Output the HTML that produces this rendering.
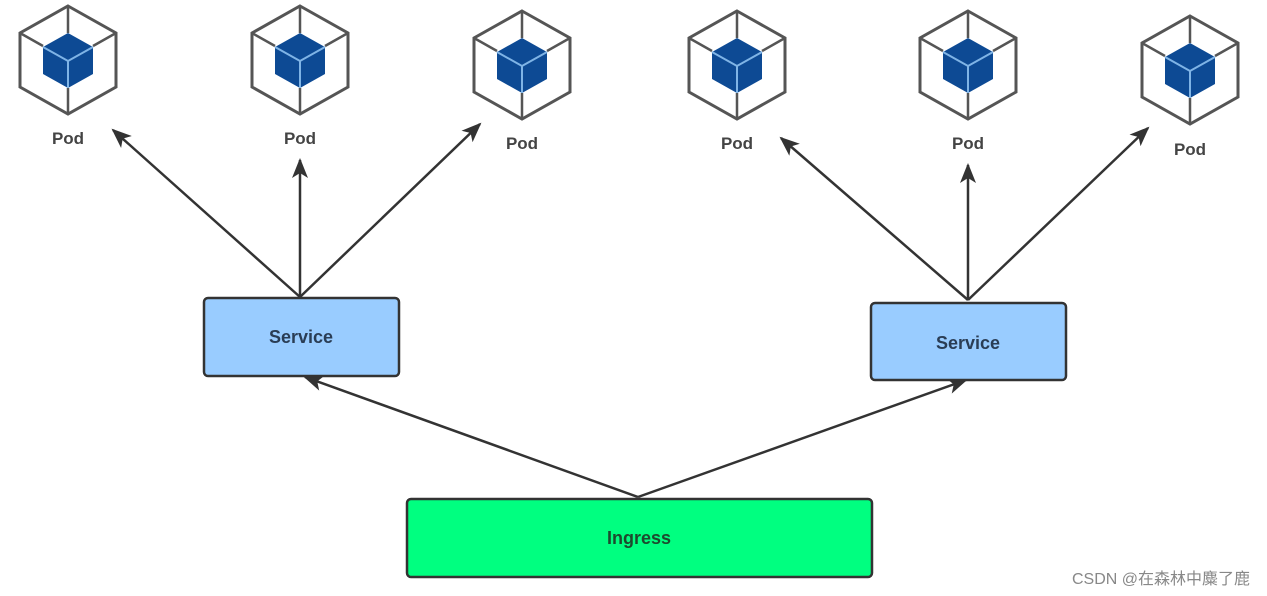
<!DOCTYPE html>
<html><head><style>body{margin:0;background:#fff}svg{display:block}</style></head><body>
<svg width="1267" height="596" viewBox="0 0 1267 596" xmlns="http://www.w3.org/2000/svg" font-family="Liberation Sans, sans-serif">
<defs>
<marker id="a" markerWidth="20" markerHeight="16" refX="18" refY="8" orient="auto" markerUnits="userSpaceOnUse" viewBox="0 0 20 16"><path d="M0,0 L20,8 L0,16 L5,8 z" fill="#333"/></marker>
<g id="pod">
<polygon points="0,-54 48,-27 48,27 0,54 -48,27 -48,-27" fill="#fff" stroke="#555" stroke-width="3"/>
<line x1="0" y1="-54" x2="0" y2="-27" stroke="#555" stroke-width="2.5"/>
<line x1="-48" y1="-27" x2="-25" y2="-14" stroke="#555" stroke-width="2.5"/>
<line x1="48" y1="-27" x2="25" y2="-14" stroke="#555" stroke-width="2.5"/>
<line x1="0" y1="28" x2="0" y2="54" stroke="#555" stroke-width="2.5"/>
<polygon points="0,-27 25,-13 25,14 0,28 -25,14 -25,-13" fill="#0d4a94"/>
<polyline points="-25,-13 0,1 25,-13" fill="none" stroke="#7fb4e6" stroke-width="2"/>
<line x1="0" y1="1" x2="0" y2="28" stroke="#7fb4e6" stroke-width="2"/>
</g>
</defs>
<use href="#pod" x="68" y="60"/>
<use href="#pod" x="300" y="60"/>
<use href="#pod" x="522" y="65"/>
<use href="#pod" x="737" y="65"/>
<use href="#pod" x="968" y="65"/>
<use href="#pod" x="1190" y="70"/>
<g font-weight="bold" font-size="17" fill="#444" text-anchor="middle">
<text x="68" y="144">Pod</text><text x="300" y="144">Pod</text><text x="522" y="149">Pod</text>
<text x="737" y="149">Pod</text><text x="968" y="149">Pod</text><text x="1190" y="155">Pod</text>
</g>
<g stroke="#333" stroke-width="2.5" marker-end="url(#a)">
<line x1="300" y1="297" x2="113" y2="130"/>
<line x1="300" y1="297" x2="300" y2="160"/>
<line x1="300" y1="297" x2="480" y2="124"/>
<line x1="968" y1="300" x2="781" y2="138"/>
<line x1="968" y1="300" x2="968" y2="165"/>
<line x1="968" y1="300" x2="1148" y2="128"/>
<line x1="638" y1="497" x2="305" y2="377"/>
<line x1="638" y1="497" x2="966" y2="380"/>
</g>
<rect x="204" y="298" width="195" height="78" rx="4" fill="#99ccff" stroke="#333" stroke-width="2.5"/>
<rect x="871" y="303" width="195" height="77" rx="4" fill="#99ccff" stroke="#333" stroke-width="2.5"/>
<rect x="407" y="499" width="465" height="78" rx="4" fill="#00ff80" stroke="#333" stroke-width="2.5"/>
<g font-weight="bold" font-size="18" fill="#2a3d55" text-anchor="middle">
<text x="301" y="343">Service</text><text x="968" y="349">Service</text><text x="639" y="544" fill="#1d4a2e">Ingress</text>
</g>
<text x="1250" y="584" text-anchor="end" font-size="16" fill="#888" font-family="Liberation Sans, Noto Sans CJK SC, sans-serif">CSDN @在森林中麋了鹿</text>
</svg>
</body></html>
